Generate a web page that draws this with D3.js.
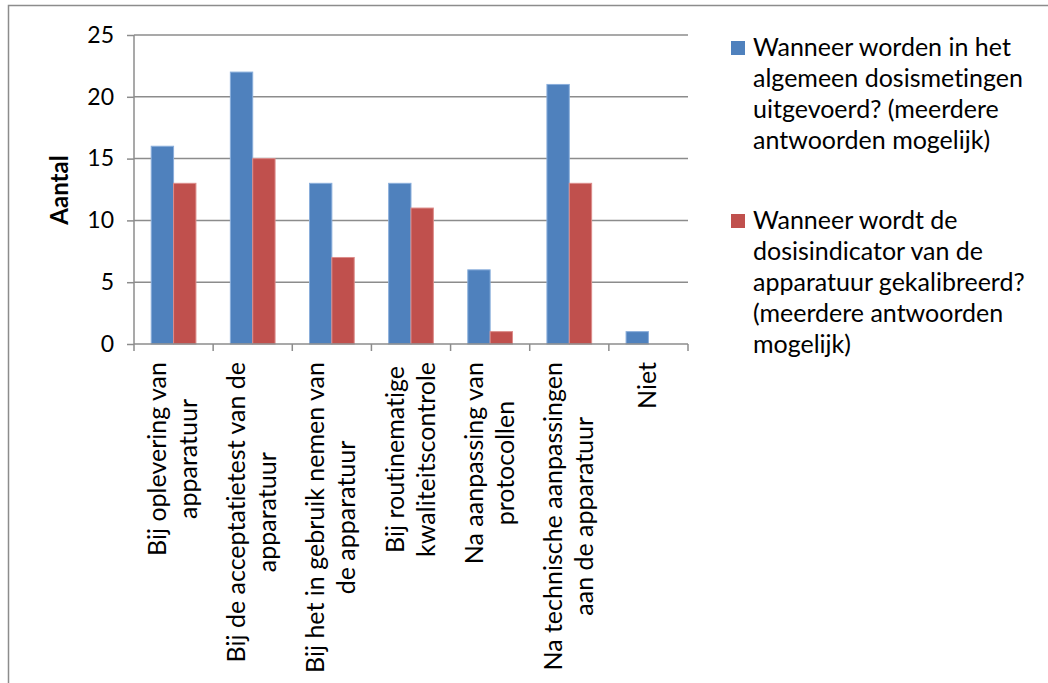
<!DOCTYPE html>
<html>
<head>
    <script src="https://d3js.org/d3.v7.min.js"></script>
    <style>
        body { margin: 0; background: #fff; }
        text { font-family: Lato, "Open Sans", sans-serif; fill: #000; font-variant-ligatures: none; }
    </style>
</head>
<body>
    <svg width="1048" height="683"></svg>
    <script>
        // data
        var categories = ["Bij oplevering van\napparatuur",
                          "Bij de acceptatietest van de\napparatuur",
                          "Bij het in gebruik nemen van\nde apparatuur",
                          "Bij routinematige\nkwaliteitscontrole",
                          "Na aanpassing van\nprotocollen",
                          "Na technische aanpassingen\naan de apparatuur",
                          "Niet"];
        var metingen = [16, 22, 13, 13, 6, 21, 1];
        var kalibratie = [13, 15, 7, 11, 1, 13, 0];
        var seriesNames = ["Wanneer worden in het\nalgemeen dosismetingen\nuitgevoerd? (meerdere\nantwoorden mogelijk)",
                           "Wanneer wordt de\ndosisindicator van de\napparatuur gekalibreerd?\n(meerdere antwoorden\nmogelijk)"];
        var yTicks = [0, 5, 10, 15, 20, 25];

        var colors = ["#4f81bd", "#c0504d"];
        var edges = ["#8aaedb", "#dc8c8a"];

        var svg = d3.select("svg");

        // outer frame
        svg.append("path")
           .attr("d", "M8.5,683 V5.5 H1048")
           .attr("fill", "none")
           .attr("stroke", "#8c8c8c")
           .attr("stroke-width", 1.5);

        var x = d3.scaleBand().domain(d3.range(categories.length)).range([134, 688]);
        var xs = d3.scaleBand().domain([0, 1]).range([0, x.bandwidth()]).paddingOuter(0.77);
        var y = d3.scaleLinear().domain([0, 25]).range([344, 35]);

        // gridlines
        svg.append("g").selectAll("line")
           .data(yTicks.slice(1))
           .enter().append("line")
           .attr("x1", 134).attr("x2", 688)
           .attr("y1", function(d) { return y(d); })
           .attr("y2", function(d) { return y(d); })
           .attr("stroke", "#8c8c8c").attr("stroke-width", 1.5);

        // y axis
        var yAxis = svg.append("g")
           .attr("transform", "translate(134,0)")
           .call(d3.axisLeft(y).tickValues(yTicks).tickSize(7).tickPadding(13));
        yAxis.selectAll("line, path").attr("stroke", "#8c8c8c").attr("stroke-width", 1.5);
        yAxis.select(".domain").attr("d", "M0," + y(25) + "V" + y(0));
        yAxis.selectAll("text").style("font-size", "23px").attr("fill", "#000");

        svg.append("text")
           .attr("transform", "translate(68,190) rotate(-90)")
           .attr("text-anchor", "middle")
           .style("font-size", "24px")
           .style("font-weight", "bold")
           .text("Aantal");

        // bars
        var series = [metingen, kalibratie];
        series.forEach(function(vals, s) {
            svg.append("g").selectAll("rect")
               .data(vals)
               .enter().append("rect")
               .attr("x", function(d, i) { return x(i) + xs(s); })
               .attr("y", function(d) { return y(d); })
               .attr("width", xs.bandwidth())
               .attr("height", function(d) { return y(0) - y(d); })
               .attr("fill", colors[s])
               .attr("stroke", edges[s])
               .attr("stroke-width", d => d > 0 ? 1 : 0);
        });

        // x axis
        var xAxis = svg.append("g");
        xAxis.append("line")
           .attr("x1", 134).attr("x2", 688)
           .attr("y1", y(0)).attr("y2", y(0))
           .attr("stroke", "#8c8c8c").attr("stroke-width", 1.5);
        xAxis.selectAll(".tk")
           .data(d3.range(categories.length + 1))
           .enter().append("line")
           .attr("x1", function(d) { return 134 + d * x.step(); })
           .attr("x2", function(d) { return 134 + d * x.step(); })
           .attr("y1", y(0)).attr("y2", y(0) + 7)
           .attr("stroke", "#8c8c8c").attr("stroke-width", 1.5);

        // category labels, rotated, lines centred on each other
        categories.forEach(function(c, i) {
            var lines = c.split("\n");
            var g = svg.append("g");
            var cx = x(i) + x.bandwidth() / 2;
            var texts = lines.map(function(l) {
                return g.append("text")
                    .attr("text-anchor", "middle")
                    .style("font-size", "25px")
                    .text(l);
            });
            var maxLen = d3.max(texts, function(t) { return t.node().getComputedTextLength(); });
            var top = 362;
            texts.forEach(function(t, k) {
                var lx = cx + (k - (lines.length - 1) / 2) * 31 + 8;
                t.attr("transform", "translate(" + lx + "," + (top + maxLen / 2) + ") rotate(-90)");
            });
        });

        // legend
        var legendTop = [48, 221];
        seriesNames.forEach(function(n, s) {
            svg.append("rect")
               .attr("x", 731).attr("y", legendTop[s] - 7)
               .attr("width", 14).attr("height", 14)
               .attr("fill", colors[s]);
            var t = svg.append("text")
               .attr("x", 753)
               .attr("y", legendTop[s] + 8)
               .style("font-size", "25px");
            n.split("\n").forEach(function(l, k) {
                t.append("tspan").attr("x", 753).attr("dy", k === 0 ? 0 : 31).text(l);
            });
        });
    </script>
</body>
</html>
